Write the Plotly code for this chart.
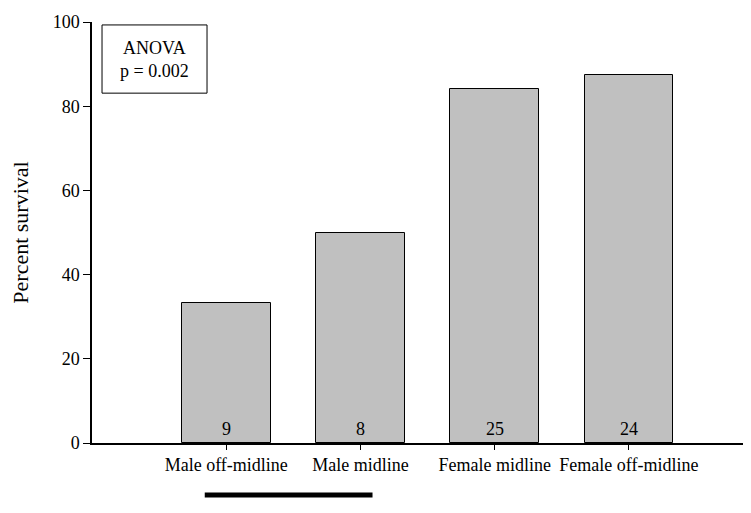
import plotly.graph_objects as go

# data
groups = ["Male off-midline", "Male midline", "Female midline", "Female off-midline"]
positions = [1, 2, 3, 4]
survival = [33.3, 50.0, 84.0, 87.5]
n_counts = [9, 8, 25, 24]

serif = "Liberation Serif, Times New Roman, serif"

fig = go.Figure()
fig.add_trace(go.Bar(
    x=positions,
    y=survival,
    width=0.66,
    marker=dict(color="#c0c0c0", line=dict(color="black", width=1)),
    showlegend=False,
))

# sample sizes at the base of each bar
for xpos, n in zip(positions, n_counts):
    fig.add_annotation(x=xpos, y=0, text=str(n), showarrow=False,
                       xanchor="center", yanchor="bottom", yshift=2,
                       font=dict(family=serif, size=18, color="black"))

# ANOVA box
fig.add_shape(type="rect", xref="paper", yref="paper",
              x0=0.0153, x1=0.1756, y0=0.831, y1=0.993,
              line=dict(color="black", width=1), fillcolor="white")
fig.add_annotation(xref="paper", yref="paper", x=0.0955, y=0.912,
                   xanchor="center", yanchor="middle",
                   text="ANOVA<br>p = 0.002", showarrow=False,
                   font=dict(family=serif, size=18, color="black"),
                   align="center")

# thick bar under the male groups
fig.add_shape(type="line", xref="x", yref="paper",
              x0=0.84, x1=2.09, y0=-0.1235, y1=-0.1235,
              line=dict(color="black", width=5))

# page body adds an 8px margin, so the figure is sized 8px smaller
fig.update_layout(
    width=743, height=505,
    margin=dict(l=84, r=4, t=14, b=70),
    plot_bgcolor="white", paper_bgcolor="white",
    font=dict(family=serif, size=18, color="black"),
    bargap=0,
)
fig.update_xaxes(
    range=[0, 4.88], automargin=False,
    tickvals=positions, ticktext=groups,
    showline=True, linecolor="black", linewidth=1.5,
    ticks="outside", ticklen=5, tickcolor="black",
    showgrid=False, zeroline=False,
)
fig.update_yaxes(
    range=[0, 100], tickvals=[0, 20, 40, 60, 80, 100], automargin=False,
    showline=True, linecolor="black", linewidth=1.5,
    ticks="outside", ticklen=7, tickcolor="black",
    showgrid=False, zeroline=False,
    title=dict(text="Percent survival", standoff=19),
)

fig.write_html("out.html")
